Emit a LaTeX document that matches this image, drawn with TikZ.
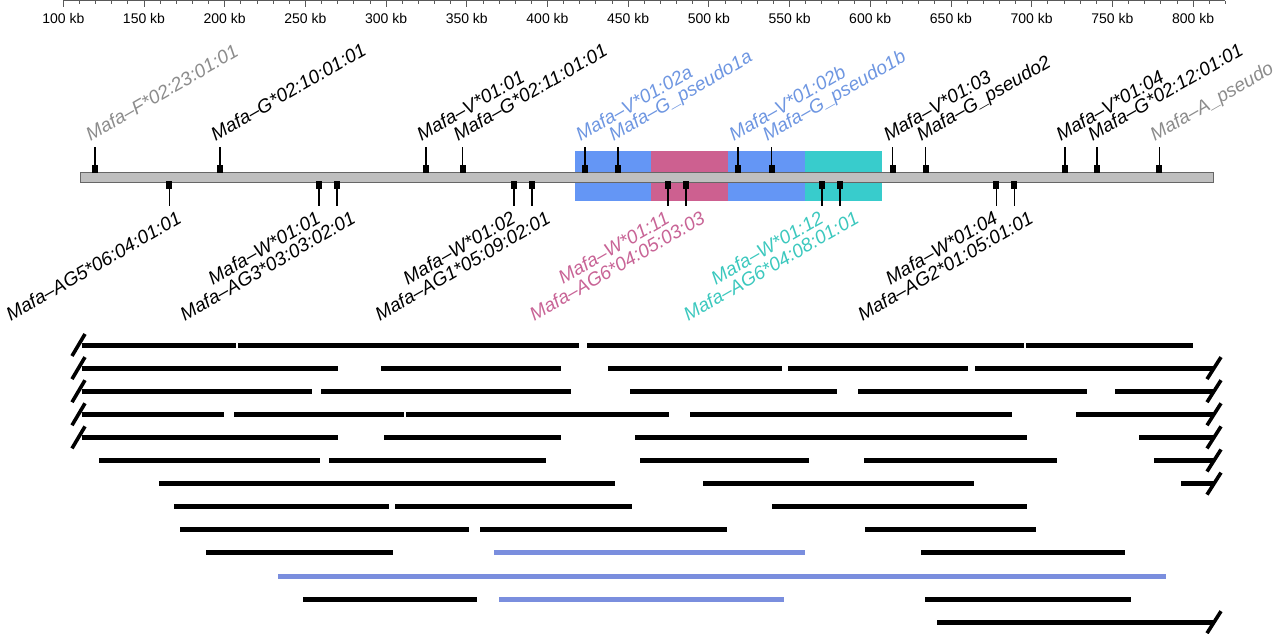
\documentclass[tikz,border=0pt]{standalone}
\usepackage{fontspec}
\setmainfont{Liberation Sans}
\definecolor{cblue}{RGB}{100,150,245}
\definecolor{cmag}{RGB}{205,96,144}
\definecolor{cteal}{RGB}{56,204,204}
\definecolor{lblue}{RGB}{110,150,225}
\definecolor{lmag}{RGB}{200,100,150}
\definecolor{lteal}{RGB}{60,200,190}
\definecolor{lgray}{RGB}{140,140,140}
\definecolor{rblue}{RGB}{122,142,222}
\newcommand\kbpos[1]{63.3+(#1-100)*1.6139}
\tikzset{
  axisline/.style={draw=black!65,line width=0.8pt},
  axlab/.style={anchor=base,inner sep=0pt,font=\fontsize{14}{14}\selectfont},
  toplab/.style={rotate=30,anchor=base west,inner sep=0pt,font=\fontsize{19}{19}\selectfont\itshape},
  botlab/.style={rotate=30,anchor=north east,inner sep=0pt,font=\fontsize{19}{19}\selectfont\itshape},
  stem/.style={line width=1.6pt,black},
  seg/.style={line width=5pt,line cap=butt,black},
  bseg/.style={line width=5pt,line cap=butt,rblue},
  slashmk/.style={line width=3.6pt,line cap=butt,black},
}
\begin{document}
\begin{tikzpicture}[x=1pt,y=-1pt]
\useasboundingbox (0,0) rectangle (1280,634);
% axis
\pgfmathsetmacro\axl{\kbpos{100}}
\pgfmathsetmacro\axr{\kbpos{820}}
\coordinate (axL) at (\axl,0.6);
\coordinate (axR) at (\axr,0.6);
\draw[axisline] (axL) -- (axR);
\foreach \k in {100,110,...,820}{\pgfmathsetmacro\xx{\kbpos{\k}}\draw[axisline] (\xx,0.6) -- (\xx,4.5);}
\foreach \k in {100,150,...,800}{\pgfmathsetmacro\xx{\kbpos{\k}}\draw[axisline] (\xx,0.6) -- (\xx,7.5);
  \node[axlab] (ax\k) at (\xx,24) {\k{} kb};}
% coloured blocks
\fill[cblue] (575,151) rectangle (651,201);
\fill[cmag] (651,151) rectangle (728,201);
\fill[cblue] (728,151) rectangle (805,201);
\fill[cteal] (805,151) rectangle (882,201);
% chromosome bar
\draw[draw=black!60,fill=black!25,line width=0.7pt] (80,172) rectangle (1213,182);
% top ticks
\foreach \x/\c/\t [count=\i] in {95/lgray/{Mafa–F*02:23:01:01},220/black/{Mafa–G*02:10:01:01},426/black/{Mafa–V*01:01},462.5/black/{Mafa–G*02:11:01:01},585/lblue/{Mafa–V*01:02a},618/lblue/{Mafa–G\_pseudo1a},738.2/lblue/{Mafa–V*01:02b},771.6/lblue/{Mafa–G\_pseudo1b},892.6/black/{Mafa–V*01:03},925.6/black/{Mafa–G\_pseudo2},1065.2/black/{Mafa–V*01:04},1097/black/{Mafa–G*02:12:01:01},1159.3/lgray/{Mafa–A\_pseudo}}{
  \draw[stem] (\x,147) -- (\x,168);
  \fill (\x-3,165) rectangle (\x+3,173);
  \node[toplab,text=\c] (t\i) at (\x-4.5,141.5) {\t};
}
% bottom ticks
\foreach \x/\c/\e/\t [count=\i] in {169.4/black/176/{Mafa–AG5*06:04:01:01},318.8/black/315/{Mafa–W*01:01},336.7/black/350/{Mafa–AG3*03:03:02:01},513.9/black/510/{Mafa–W*01:02},531.8/black/545/{Mafa–AG1*05:09:02:01},668.2/lmag/664/{Mafa–W*01:11},686.1/lmag/699.5/{Mafa–AG6*04:05:03:03},822/lteal/818/{Mafa–W*01:12},840/lteal/853.5/{Mafa–AG6*04:08:01:01},996.3/black/992.3/{Mafa–W*01:04},1014.3/black/1027.8/{Mafa–AG2*01:05:01:01}}{
  \draw[stem] (\x,186) -- (\x,206);
  \fill (\x-3,181) rectangle (\x+3,189);
  \node[botlab,text=\c] (b\i) at (\e,210) {\t};
}
% contig rows
\newcommand\rowy[1]{345+23.1*(#1-1)}
\foreach \r/\segs in {1/{82/236,238/579,587/1024,1026/1193},2/{82/338,381/561,608/782,788/968,975/1214},3/{82/312,321/571,630/837,858/1087,1115/1214},4/{82/224,234/404,406/669,690/1012,1076/1214},5/{82/338,384/561,635/1027,1139/1214},6/{99/320,329/546,640/809,864/1057,1154/1214},7/{159/615,703/974,1181/1214},8/{174/389,395/632,772/1027},9/{180/469,480/727,865/1036},10/{206/393,921/1125},12/{303/477,925/1131},13/{937/1214}}{
  \pgfmathsetmacro\yy{\rowy{\r}}
  \foreach \a/\b in \segs {\draw[seg] (\a,\yy) -- (\b,\yy);}
}
\pgfmathsetmacro\ya{\rowy{10}}
\pgfmathsetmacro\yb{\rowy{11}}
\pgfmathsetmacro\yc{\rowy{12}}
\draw[bseg] (494,\ya) -- (805,\ya);
\draw[bseg] (278,\yb) -- (1166,\yb);
\draw[bseg] (499,\yc) -- (783.5,\yc);
% left break marks
\foreach \r in {1,...,5}{\pgfmathsetmacro\yy{\rowy{\r}}\draw[slashmk] (72,\yy+11) -- (85,\yy-11);}
% right break marks
\foreach \r in {2,...,7,13}{\pgfmathsetmacro\yy{\rowy{\r}}\draw[slashmk] (1207,\yy+11) -- (1221,\yy-11);}
\end{tikzpicture}
\end{document}
